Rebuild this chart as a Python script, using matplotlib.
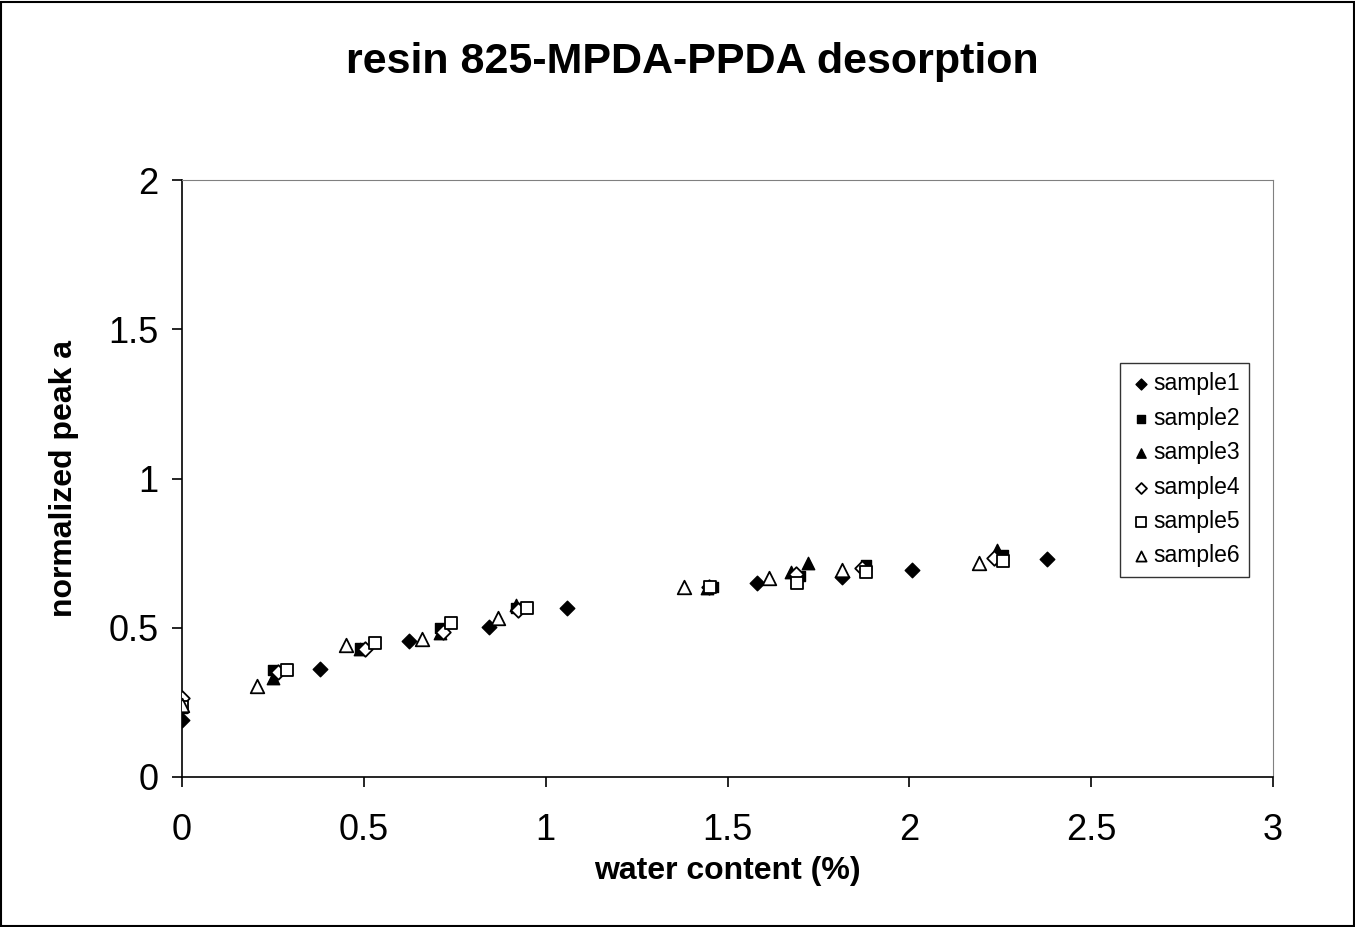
import numpy as np
import matplotlib.pyplot as plt
from matplotlib.patches import Rectangle

plt.rcParams['font.family'] = ['Liberation Sans', 'DejaVu Sans']

# values
x1 = [0, 0.38, 0.625, 0.843, 1.059, 1.58, 1.814, 2.008, 2.378]
y1 = [0.19, 0.362, 0.455, 0.501, 0.565, 0.651, 0.671, 0.692, 0.73]
x2 = [0, 0.25, 0.49, 0.709, 0.918, 1.461, 1.699, 1.88, 2.258]
y2 = [0.23, 0.358, 0.433, 0.498, 0.565, 0.638, 0.673, 0.71, 0.744]
x3 = [0, 0.25, 0.49, 0.709, 0.918, 1.445, 1.675, 1.72, 2.242]
y3 = [0.24, 0.33, 0.43, 0.482, 0.576, 0.634, 0.688, 0.716, 0.76]
x4 = [0, 0.265, 0.503, 0.717, 0.925, 1.45, 1.688, 1.869, 2.233]
y4 = [0.265, 0.353, 0.43, 0.487, 0.56, 0.635, 0.679, 0.699, 0.733]
x5 = [0, 0.29, 0.531, 0.739, 0.948, 1.453, 1.69, 1.882, 2.258]
y5 = [0.235, 0.36, 0.449, 0.515, 0.567, 0.638, 0.649, 0.688, 0.725]
x6 = [0, 0.205, 0.45, 0.659, 0.87, 1.381, 1.615, 1.814, 2.191]
y6 = [0.24, 0.305, 0.442, 0.462, 0.534, 0.638, 0.668, 0.695, 0.716]

fig = plt.figure(figsize=(13.55, 9.27), dpi=100)
ax = fig.add_axes([182/1355, 1 - 777/927, (1273-182)/1355, (777-180)/927])

ax.scatter(x1, y1, marker='D', s=55, c='black', label='sample1', zorder=3)
ax.scatter(x2, y2, marker='s', s=60, c='black', label='sample2', zorder=3)
ax.scatter(x3, y3, marker='^', s=80, c='black', label='sample3', zorder=3)
ax.scatter(x4, y4, marker='D', s=55, facecolors='white', edgecolors='black', linewidths=1.3, label='sample4', zorder=3)
ax.scatter(x5, y5, marker='s', s=75, facecolors='white', edgecolors='black', linewidths=1.3, label='sample5', zorder=3)
ax.scatter(x6, y6, marker='^', s=95, facecolors='white', edgecolors='black', linewidths=1.3, label='sample6', zorder=3)

ax.set_xlim(0, 3)
ax.set_ylim(0, 2)
ax.set_xticks([0, 0.5, 1, 1.5, 2, 2.5, 3])
ax.set_xticklabels(['0', '0.5', '1', '1.5', '2', '2.5', '3'])
ax.set_yticks([0, 0.5, 1, 1.5, 2])
ax.set_yticklabels(['0', '0.5', '1', '1.5', '2'])
ax.tick_params(direction='out', length=7, width=1.2, labelsize=26)
ax.tick_params(axis='x', pad=19)
ax.tick_params(axis='y', pad=10)
ax.spines['left'].set_linewidth(1.2)
ax.spines['bottom'].set_linewidth(1.2)
ax.spines['top'].set_color('gray')
ax.spines['right'].set_color('gray')

ax.set_xlabel('water content (%)', fontsize=23, fontweight='bold', labelpad=6)
ax.set_ylabel('normalized peak a', fontsize=23, fontweight='bold', labelpad=21)
fig.text(692/1355, 1 - 73/927, 'resin 825-MPDA-PPDA desorption', ha='center', va='baseline',
         fontsize=31, fontweight='bold')

leg = ax.legend(loc='upper left', bbox_to_anchor=((1120-182)/1091, (777-363)/597),
                frameon=True, fancybox=False, fontsize=16.5, handletextpad=0.05,
                borderpad=0.4, labelspacing=0.5, handlelength=1.0, borderaxespad=0,
                markerscale=0.75)
leg.get_frame().set_edgecolor('black')
leg.get_frame().set_linewidth(1.0)

fig.patches.append(Rectangle((0.001, 0.001), 0.998, 0.997, transform=fig.transFigure,
                             fill=False, edgecolor='black', linewidth=1.5))

fig.savefig('out.png', dpi=100)
